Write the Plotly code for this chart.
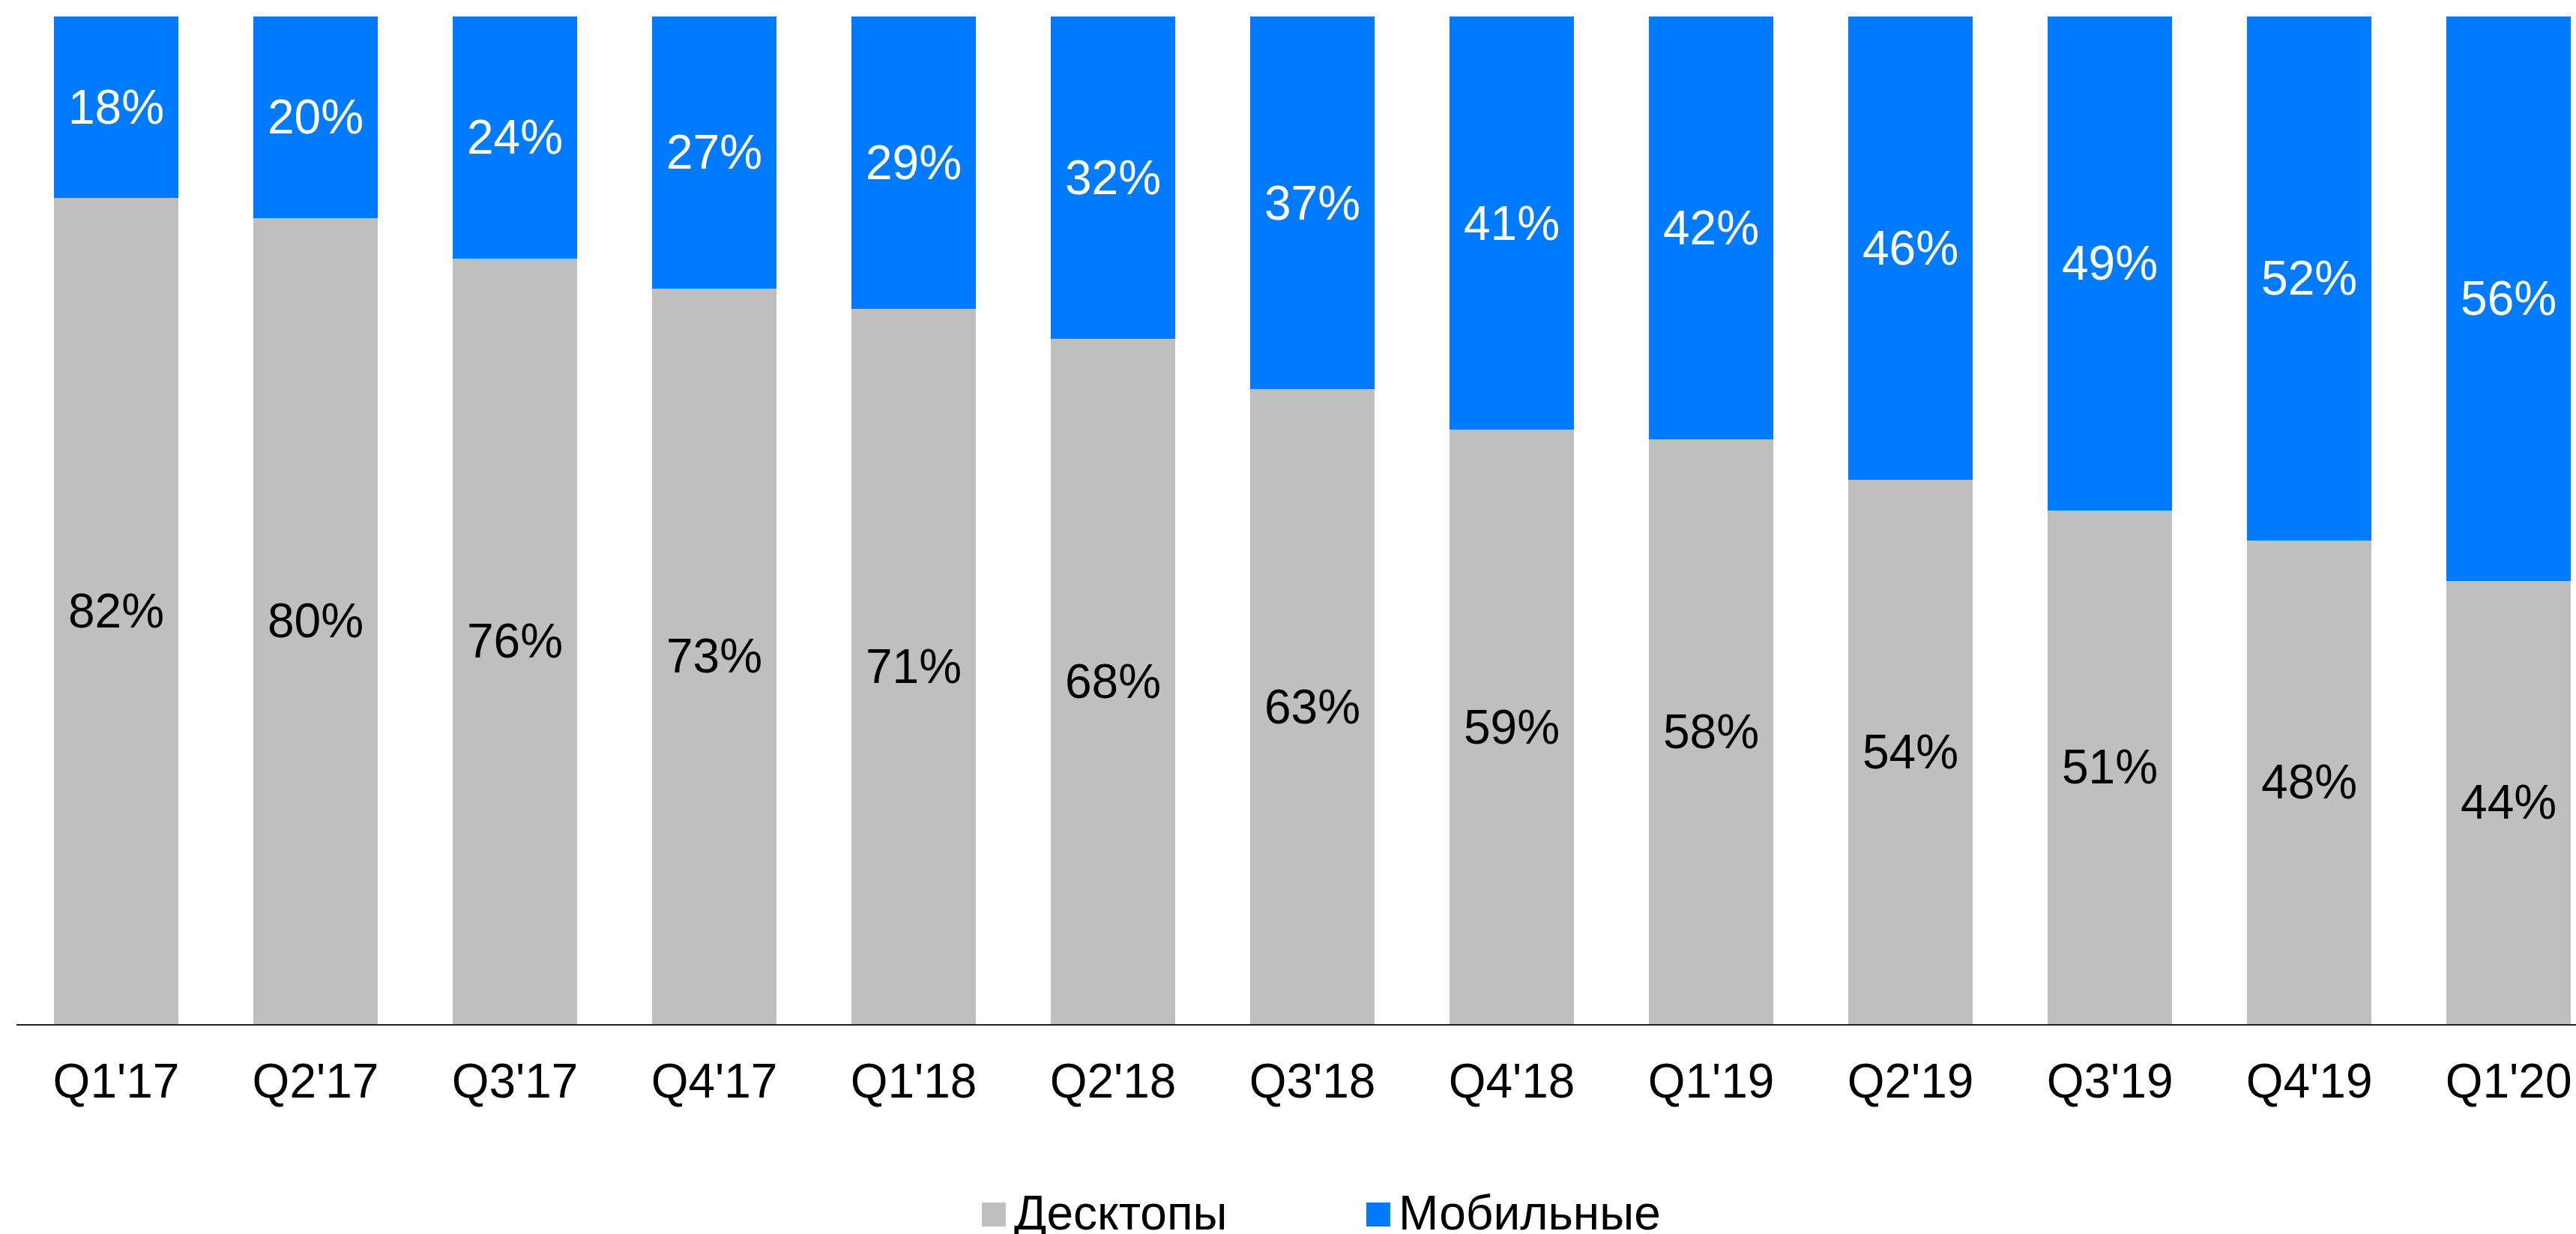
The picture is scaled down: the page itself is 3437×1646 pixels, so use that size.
import plotly.graph_objects as go

# Share of traffic by device type, per quarter (%)
quarters = ["Q1'17", "Q2'17", "Q3'17", "Q4'17", "Q1'18", "Q2'18", "Q3'18",
            "Q4'18", "Q1'19", "Q2'19", "Q3'19", "Q4'19", "Q1'20"]
desktop_share = [82, 80, 76, 73, 71, 68, 63, 59, 58, 54, 51, 48, 44]
mobile_share = [18, 20, 24, 27, 29, 32, 37, 41, 42, 46, 49, 52, 56]

series_names = ["Десктопы", "Мобильные"]
series_colors = ["#BFBFBF", "#007AFF"]
label_colors = ["#000000", "#FFFFFF"]

FONT = "Arial, 'Liberation Sans', sans-serif"

fig = go.Figure()
for name, values, color, label_color in zip(
        series_names, [desktop_share, mobile_share], series_colors, label_colors):
    fig.add_trace(go.Bar(
        x=quarters,
        y=values,
        name=name,
        marker={"color": color, "line": {"width": 0}},
        texttemplate="%{y}%",
        textposition="inside",
        insidetextanchor="middle",
        textangle=0,
        textfont={"family": FONT, "size": 64, "color": label_color},
        showlegend=False,
    ))

# legend drawn as annotations so the colour squares can be large
legend_x = [0.3755, 0.5257]
for name, color, x in zip(series_names, series_colors, legend_x):
    fig.add_annotation(
        xref="paper", yref="paper", x=x, y=-0.1865,
        xanchor="left", yanchor="middle", showarrow=False,
        text=(f"<span style='color:{color};font-size:66px'>■</span>"
              f"<span style='font-size:26px'> </span>{name}"),
        font={"family": FONT, "size": 64, "color": "#000000"},
    )

fig.update_layout(
    width=3437, height=1646,
    barmode="stack", bargap=0.376,
    plot_bgcolor="white", paper_bgcolor="white",
    margin={"l": 22, "r": 0, "t": 22, "b": 280},
    font={"family": FONT, "color": "#000000"},
)
fig.update_xaxes(
    range=[-0.5, 12.338],
    showline=True, linecolor="#222222", linewidth=2,
    showgrid=False, zeroline=False,
    ticks="outside", ticklen=19, tickcolor="rgba(0,0,0,0)",
    tickfont={"family": FONT, "size": 64, "color": "#000000"},
)
fig.update_yaxes(range=[0, 100], visible=False)

# drop the default page margin so the figure fills the window exactly
fig.write_html("out.html", config={"displayModeBar": False},
               post_script="document.body.style.margin='0';")
